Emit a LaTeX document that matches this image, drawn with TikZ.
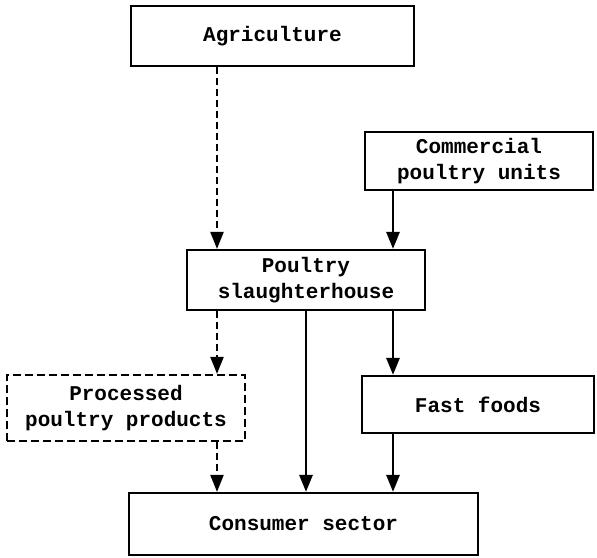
\documentclass[tikz,border=0pt]{standalone}
\usepackage{fontspec}
\setmonofont{Liberation Mono}
\usetikzlibrary{arrows.meta}
\begin{document}
\begin{tikzpicture}[x=1pt,y=-1pt,
  box/.style={draw, line width=2.2pt, inner sep=0pt, align=center,
    font=\ttfamily\bfseries\fontsize{21}{26}\selectfont},
  dbox/.style={box, dash pattern=on 8pt off 4pt},
  flow/.style={line width=2.8pt, -{Triangle[length=17pt,width=13pt]}},
  dflow/.style={flow, line width=2.2pt, dash pattern=on 7pt off 4pt}]
\useasboundingbox (0,0) rectangle (597,557);
\node[box, minimum width=283pt, minimum height=60pt] (agri) at (272.5,36) {Agriculture};
\node[box, minimum width=228pt, minimum height=58pt] (comm) at (479,161) {Commercial\\poultry units};
\node[box, minimum width=238pt, minimum height=60pt] (slau) at (306,280) {Poultry\\slaughterhouse};
\node[dbox, minimum width=238pt, minimum height=66pt] (proc) at (126,408) {Processed\\poultry products};
\node[box, minimum width=232pt, minimum height=57pt] (fast) at (478,404.5) {Fast foods};
\node[box, minimum width=349pt, minimum height=62pt] (cons) at (303.5,524) {Consumer sector};
\coordinate (xl) at (217,0);
\coordinate (xm) at (306,0);
\coordinate (xr) at (393,0);
\draw[dflow] (agri.south -| xl) -- (slau.north -| xl);
\draw[flow] (comm.south -| xr) -- (slau.north -| xr);
\draw[dflow] (slau.south -| xl) -- (proc.north -| xl);
\draw[flow] (slau.south -| xm) -- (cons.north -| xm);
\draw[flow] (slau.south -| xr) -- (fast.north -| xr);
\draw[dflow] (proc.south -| xl) -- (cons.north -| xl);
\draw[flow] (fast.south -| xr) -- (cons.north -| xr);
\end{tikzpicture}
\end{document}
